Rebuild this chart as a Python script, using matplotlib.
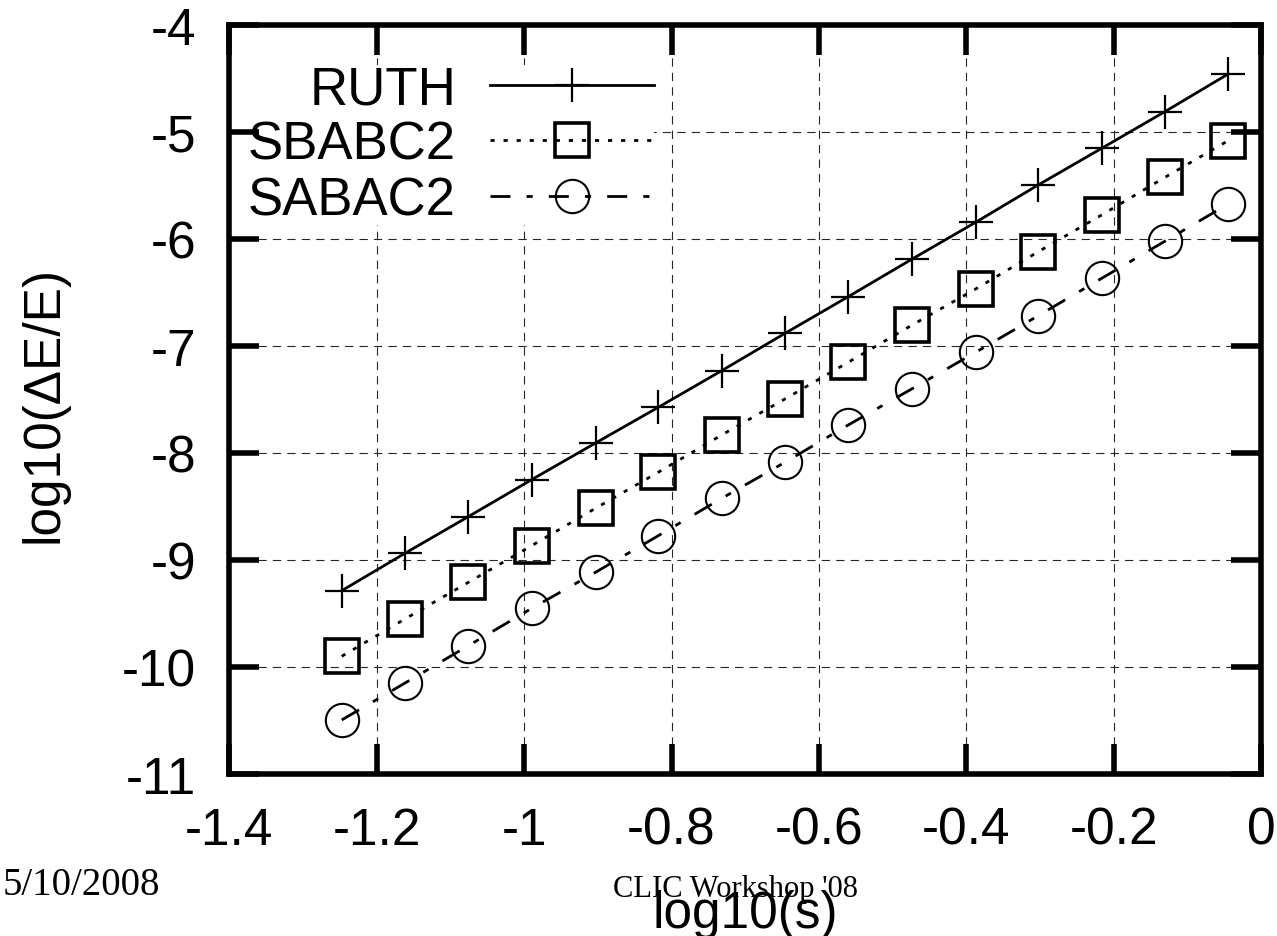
import matplotlib
matplotlib.use("Agg")
import matplotlib.pyplot as plt

plt.rcParams['font.family'] = ['Liberation Sans', 'DejaVu Sans']
plt.rcParams['axes.unicode_minus'] = False

# log10 of the step size
log_s = [-1.2475, -1.1616, -1.0757, -0.9897, -0.9031, -0.8179, -0.7319, -0.6460,
         -0.5601, -0.4741, -0.3872, -0.3023, -0.2163, -0.1304, -0.0445]

# log10 of the relative energy error for each integrator
ruth = [-9.287, -8.937, -8.595, -8.249, -7.907, -7.573, -7.231, -6.882,
        -6.539, -6.190, -5.844, -5.495, -5.153, -4.810, -4.458]
sbabc2 = [-9.900, -9.551, -9.209, -8.866, -8.517, -8.180, -7.832, -7.495,
          -7.152, -6.807, -6.467, -6.119, -5.776, -5.424, -5.081]
sabac2 = [-10.495, -10.150, -9.801, -9.452, -9.115, -8.773, -8.424, -8.087,
          -7.738, -7.402, -7.059, -6.717, -6.368, -6.021, -5.673]

xticks = [-1.4, -1.2, -1.0, -0.8, -0.6, -0.4, -0.2, 0.0]
xtick_labels = ['-1.4', '-1.2', '-1', '-0.8', '-0.6', '-0.4', '-0.2', '0']
yticks = [-11, -10, -9, -8, -7, -6, -5, -4]
ytick_labels = ['-11', '-10', '-9', '-8', '-7', '-6', '-5', '-4']

fig = plt.figure(figsize=(12.77, 9.37), dpi=100)
ax = fig.add_axes([0.1796, 0.1729, 0.8079, 0.7994])

# dashed grid drawn by hand so the key box can sit between grid and ticks
for xv in xticks:
    ax.axvline(xv, color='0.15', lw=0.8, ls=(0, (7.5, 5.5)), zorder=1.0)
for yv in yticks:
    ax.axhline(yv, color='0.15', lw=0.8, ls=(0, (7.5, 5.5)), zorder=1.0)

ax.plot(log_s, ruth, color='black', lw=2, ls='-', marker='+', ms=24, mew=1.6,
        label='RUTH', zorder=2)
ax.plot(log_s, sbabc2, color='black', lw=2, ls=(0, (1.5, 3.2)), marker='s',
        ms=24, mew=2.6, fillstyle='none', label='SBABC2', zorder=2)
ax.plot(log_s, sabac2, color='black', lw=2, ls=(0, (7.2, 5.8, 2.2, 5.8)),
        marker='o', ms=24, mew=1.5, fillstyle='none', label='SABAC2', zorder=2)

ax.set_xlim(-1.4, 0)
ax.set_ylim(-11, -4)
ax.set_xticks(xticks)
ax.set_xticklabels(xtick_labels)
ax.set_yticks(yticks)
ax.set_yticklabels(ytick_labels)
ax.set_axisbelow(False)

for sp in ax.spines.values():
    sp.set_linewidth(4)
    sp.set_zorder(3)
ax.tick_params(axis='both', which='major', direction='in', length=21.5, width=4,
               top=True, right=True, labelsize=37, color='black')
ax.tick_params(axis='x', pad=23)
ax.tick_params(axis='y', pad=24)

ax.set_xlabel('log10(s)', fontsize=37)
ax.xaxis.set_label_coords(0.5, -0.154)
ax.set_ylabel('log10(ΔE/E)', fontsize=37)
ax.yaxis.set_label_coords(-0.156, 0.494)

leg = ax.legend(loc='upper right', bbox_to_anchor=(0.512, 0.930),
                bbox_transform=fig.transFigure, markerfirst=False,
                fontsize=38, handlelength=3.1, handletextpad=0.65,
                labelspacing=0.1, borderpad=0.0, borderaxespad=0.0,
                frameon=True, fancybox=False)
leg.get_frame().set_facecolor('white')
leg.get_frame().set_edgecolor('none')
leg.get_frame().set_alpha(1.0)
leg.set_zorder(1.2)

fig.text(0.002, 1 - 886 / 937, '5/10/2008', family='Liberation Serif',
         fontsize=28, ha='left', va='center')
fig.text(613 / 1277, 1 - 897 / 937, "CLIC Workshop '08", family='Liberation Serif',
         fontsize=22, ha='left', va='baseline')

fig.savefig('out.png', dpi=100)
